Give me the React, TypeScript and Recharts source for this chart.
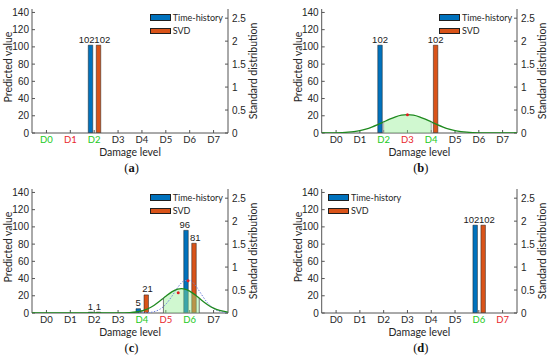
import React from "react";
import {
  ComposedChart,
  Bar,
  XAxis,
  YAxis,
  LabelList,
  Legend,
  Line,
  Area,
  Scatter,
  ReferenceLine,
} from "recharts";

type Num = number | null;

const LEVELS = ["D0", "D1", "D2", "D3", "D4", "D5", "D6", "D7"];
const SERIES = ["Time-history", "SVD"];
const LEFT_TICKS = [0, 20, 40, 60, 80, 100, 120, 140];
const RIGHT_TICKS = [0, 0.5, 1, 1.5, 2, 2.5];

// (a)
const timeA: Num[] = [null, null, 102, null, null, null, null, null];
const svdA: Num[] = [null, null, 102, null, null, null, null, null];
const greenA = ["D0", "D2"];
const redA = ["D1"];

// (b)
const timeB: Num[] = [null, null, 102, null, null, null, null, null];
const svdB: Num[] = [null, null, null, null, 102, null, null, null];
const greenB = ["D2", "D4"];
const redB = ["D3"];
const distXB = [
  -0.6, -0.25, 0, 0.25, 0.5, 0.75, 1, 1.25, 1.5, 1.75, 2, 2.25, 2.5, 2.75, 3,
  3.25, 3.5, 3.75, 4, 4.25, 4.5, 4.75, 5, 5.25, 5.5, 5.75, 6, 6.25, 6.5, 6.75,
  7, 7.25, 7.6,
];
const distB = [
  0.0006, 0.002, 0.0044, 0.009, 0.0175, 0.032, 0.054, 0.086, 0.13, 0.183,
  0.242, 0.301, 0.352, 0.387, 0.399, 0.387, 0.352, 0.301, 0.242, 0.183, 0.13,
  0.086, 0.054, 0.032, 0.0175, 0.009, 0.0044, 0.002, 0.0009, 0.0004, 0.0001, 0,
  0,
];
const bandB = [2, 4];
const dotsB = [{ x: 3, y: 0.4 }];

// (c)
const timeC: Num[] = [null, null, 1, null, 5, null, 96, null];
const svdC: Num[] = [null, null, 1, null, 21, null, 81, null];
const greenC = ["D4", "D6"];
const redC = ["D5"];
const distXC = [
  -0.6, 0, 1, 2, 2.5, 3, 3.5, 3.75, 4, 4.25, 4.5, 4.75, 4.9, 5, 5.25, 5.5,
  5.65, 5.75, 6, 6.25, 6.4, 6.5, 6.75, 7, 7.25, 7.6,
];
const distC = [
  0, 0, 0, 0, 0.0001, 0.001, 0.0087, 0.0215, 0.0473, 0.0932, 0.164, 0.259,
  0.323, 0.365, 0.461, 0.521, 0.532, 0.527, 0.477, 0.386, 0.323, 0.28, 0.181,
  0.105, 0.0547, 0.018,
];
const dottedC: Num[] = [
  null, null, null, null, null, null, null, 0.0004, 0.0019, 0.008, 0.028,
  0.081, 0.139, 0.19, 0.361, 0.557, 0.654, 0.699, 0.713, 0.592, 0.48, 0.4,
  0.22, 0.098, 0.036, 0.006,
];
const bandC = [4.9, 6.4];
const dotsC = [
  { x: 5.52, y: 0.44 },
  { x: 5.93, y: 0.7 },
];

// (d)
const timeD: Num[] = [null, null, null, null, null, null, 102, null];
const svdD: Num[] = [null, null, null, null, null, null, 102, null];
const greenD = ["D6"];
const redD = ["D7"];

const W = 275;
const H = 160;
const TOP = 9;
const AXIS_H = 27;
const CAT_PAD = 2.5;
const LEFT_MAX = 144;
const RIGHT_MAX = 2.7;

const BLUE = "#0072BD";
const ORANGE = "#D95319";
const EDGE = "#1f1f1f";
const AXIS = "#555";
const INK = "#262626";
const GREEN = "#22c922";
const RED = "#e8262b";
const CURVE = "#1f8a1f";
const FILL = "#90ee90";
const DOTTED = "#6d80dc";

const numFont = "'Liberation Sans', Arial, sans-serif";
const textFont = "Lato, 'Open Sans', sans-serif";

function LevelTick(props: any) {
  const { x, y, payload, green, red } = props;
  const v = payload.value;
  const fill = green.includes(v) ? GREEN : red.includes(v) ? RED : INK;
  return (
    <text x={x} y={y} dy="0.71em" textAnchor="middle" fill={fill} fontSize={9.5} fontFamily={textFont}>
      {v}
    </text>
  );
}

function MatLegend({ payload }: any) {
  const items = [...(payload || [])].sort(
    (a: any, b: any) => SERIES.indexOf(a.value) - SERIES.indexOf(b.value)
  );
  return (
    <div style={{ fontFamily: textFont, fontSize: 9, color: INK }}>
      {items.map((it: any) => (
        <div key={it.value} style={{ display: "flex", alignItems: "center", height: 13.3 }}>
          <span
            style={{
              display: "inline-block",
              width: 20.7,
              height: 6.7,
              background: it.color,
              border: `0.6px solid ${EDGE}`,
              boxSizing: "border-box",
              marginRight: 2,
            }}
          />
          {it.value}
        </div>
      ))}
    </div>
  );
}

// value labels: pushed apart when both bars of a group carry a label
function barLabel(side: number, rows: any[], leftW: number, band: number) {
  return (props: any) => {
    const { x, y, width, value } = props;
    if (value == null) return null;
    const mid = Number(x) + Number(width) / 2;
    const r = rows[Math.floor((mid - leftW - CAT_PAD) / band)];
    const both = r && r.time != null && r.svd != null;
    const w = String(value).length * 5.2;
    const shift = both ? Math.max(0, (w - 8) / 2) : 0;
    return (
      <text
        x={mid + side * shift}
        y={Number(y) - 2.5}
        textAnchor="middle"
        fill="#1a1a1a"
        fontSize={9.5}
        fontFamily={numFont}
      >
        {value}
      </text>
    );
  };
}

function RedDot(props: any) {
  return <circle cx={props.cx} cy={props.cy} r={1.5} fill="#e02020" />;
}

interface Curve {
  xs: number[];
  main: number[];
  dotted?: Num[];
  band: number[];
  edge: string;
  dots: { x: number; y: number }[];
}

interface PanelProps {
  x: number;
  y: number;
  leftW: number;
  rightW: number;
  time: Num[];
  svd: Num[];
  green: string[];
  red: string[];
  legendLeft: number;
  caption: string;
  curve?: Curve;
}

function Panel(p: PanelProps) {
  const plotW = W - p.leftW - p.rightW;
  const band = (plotW - CAT_PAD * 2) / LEVELS.length;
  const xDomain = [-0.5 - CAT_PAD / band, LEVELS.length - 0.5 + CAT_PAD / band];
  const cx = p.leftW + plotW / 2;
  const rows = LEVELS.map((level, i) => ({ level, time: p.time[i], svd: p.svd[i] }));

  const c = p.curve;
  const curveRows = c
    ? c.xs.map((x, i) => ({
        x,
        main: c.main[i],
        dotted: c.dotted ? c.dotted[i] : null,
        band: x >= c.band[0] && x <= c.band[1] ? c.main[i] : null,
      }))
    : [];
  const edgeVal = (x: number) => (c ? c.main[c.xs.indexOf(x)] : 0);

  return (
    <div style={{ position: "absolute", left: p.x, top: p.y, width: W, height: 180 }}>
      <ComposedChart
        width={W}
        height={H}
        data={rows}
        margin={{ top: TOP, right: 0, bottom: 0, left: 0 }}
        barSize={4.5}
        barGap={3.5}
      >
        <XAxis
          dataKey="level"
          interval={0}
          height={AXIS_H}
          padding={{ left: CAT_PAD, right: CAT_PAD }}
          stroke={AXIS}
          tickSize={-3}
          tickMargin={6.5}
          tick={(t: any) => <LevelTick {...t} green={p.green} red={p.red} />}
          label={{
            content: () => (
              <text x={cx} y={152} textAnchor="middle" dominantBaseline="central" fill={INK} fontSize={10.5} fontFamily={textFont}>
                Damage level
              </text>
            ),
          }}
        />
        <XAxis
          xAxisId="top"
          dataKey="level"
          orientation="top"
          interval={0}
          height={0}
          padding={{ left: CAT_PAD, right: CAT_PAD }}
          stroke={AXIS}
          tickSize={-3}
          tick={false}
        />
        <YAxis
          yAxisId="l"
          domain={[0, LEFT_MAX]}
          ticks={LEFT_TICKS}
          allowDataOverflow
          width={p.leftW}
          stroke={AXIS}
          tickSize={-3}
          tickMargin={6}
          tick={{ fill: INK, fontSize: 10, fontFamily: numFont }}
          label={{
            content: () => (
              <text
                x={p.leftW - 24}
                y={67}
                transform={`rotate(-90 ${p.leftW - 24} 67)`}
                textAnchor="middle"
                dominantBaseline="central"
                fill={INK}
                fontSize={10.5}
                fontFamily={textFont}
              >
                Predicted value
              </text>
            ),
          }}
        />
        <YAxis
          yAxisId="r"
          orientation="right"
          domain={[0, RIGHT_MAX]}
          ticks={RIGHT_TICKS}
          allowDataOverflow
          width={p.rightW}
          stroke={AXIS}
          tickSize={-3}
          tickMargin={7}
          tick={{ fill: INK, fontSize: 10, fontFamily: numFont }}
          label={{
            content: () => (
              <text
                x={W - p.rightW + 25}
                y={71}
                transform={`rotate(-90 ${W - p.rightW + 25} 71)`}
                textAnchor="middle"
                dominantBaseline="central"
                fill={INK}
                fontSize={10.5}
                fontFamily={textFont}
              >
                Standard distribution
              </text>
            ),
          }}
        />
        <Legend
          layout="vertical"
          align="center"
          verticalAlign="middle"
          wrapperStyle={{ left: p.legendLeft, top: 11, width: 90 }}
          content={(lp: any) => <MatLegend payload={lp.payload} />}
        />
        <Bar yAxisId="l" dataKey="time" name="Time-history" fill={BLUE} stroke={EDGE} strokeWidth={0.5} isAnimationActive={false}>
          <LabelList dataKey="time" content={barLabel(-1, rows, p.leftW, band)} />
        </Bar>
        <Bar yAxisId="l" dataKey="svd" name="SVD" fill={ORANGE} stroke={EDGE} strokeWidth={0.5} isAnimationActive={false}>
          <LabelList dataKey="svd" content={barLabel(1, rows, p.leftW, band)} />
        </Bar>
      </ComposedChart>

      {c && (
        <div style={{ position: "absolute", left: 0, top: 0 }}>
          <ComposedChart
            width={W}
            height={H}
            data={curveRows}
            margin={{ top: TOP, right: p.rightW, bottom: AXIS_H, left: p.leftW }}
          >
            <XAxis type="number" dataKey="x" domain={xDomain} allowDataOverflow hide />
            <YAxis domain={[0, RIGHT_MAX]} allowDataOverflow hide />
            <Area
              dataKey="band"
              type="monotone"
              stroke="none"
              fill={FILL}
              fillOpacity={0.42}
              isAnimationActive={false}
            />
            {c.dotted && (
              <Line
                dataKey="dotted"
                type="monotone"
                stroke={DOTTED}
                strokeWidth={1}
                strokeDasharray="1.5 1.5"
                dot={false}
                isAnimationActive={false}
              />
            )}
            <Line dataKey="main" type="monotone" stroke={CURVE} strokeWidth={1.3} dot={false} isAnimationActive={false} />
            {c.band.map((bx) => (
              <ReferenceLine
                key={bx}
                segment={[
                  { x: bx, y: 0 },
                  { x: bx, y: edgeVal(bx) },
                ]}
                stroke={c.edge}
                strokeWidth={0.8}
              />
            ))}
            <Scatter data={c.dots} dataKey="y" shape={RedDot} isAnimationActive={false} />
          </ComposedChart>
        </div>
      )}

      <div
        style={{
          position: "absolute",
          left: cx + 1.5,
          top: 160,
          transform: "translateX(-50%)",
          fontFamily: "'Liberation Serif', 'Times New Roman', serif",
          fontSize: 12.5,
          lineHeight: "16px",
          color: "#111",
          whiteSpace: "nowrap",
        }}
      >
        (<b>{p.caption}</b>)
      </div>
    </div>
  );
}

export default function App() {
  return (
    <div style={{ position: "absolute", left: 0, top: 0, width: 550, height: 363, background: "#fff", overflow: "hidden" }}>
      <Panel x={0} y={0} leftW={32} rightW={47} time={timeA} svd={svdA} green={greenA} red={redA} legendLeft={150} caption="a" />
      <Panel
        x={275}
        y={0}
        leftW={46.7}
        rightW={33}
        time={timeB}
        svd={svdB}
        green={greenB}
        red={redB}
        legendLeft={164.3}
        caption="b"
        curve={{ xs: distXB, main: distB, band: bandB, edge: "#a0a0a0", dots: dotsB }}
      />
      <Panel
        x={0}
        y={180}
        leftW={32}
        rightW={47}
        time={timeC}
        svd={svdC}
        green={greenC}
        red={redC}
        legendLeft={150}
        caption="c"
        curve={{ xs: distXC, main: distC, dotted: dottedC, band: bandC, edge: "#555", dots: dotsC }}
      />
      <Panel x={275} y={180} leftW={46.7} rightW={33} time={timeD} svd={svdD} green={greenD} red={redD} legendLeft={53.3} caption="d" />
    </div>
  );
}
